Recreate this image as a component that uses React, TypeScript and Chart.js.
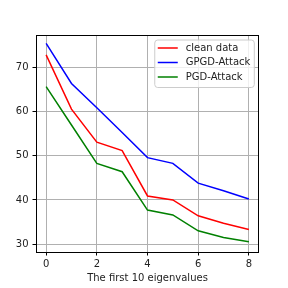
import React, { useEffect, useRef } from "react";
import { Chart, registerables } from "chart.js";

Chart.register(...registerables);

const xValues = [0, 1, 2, 3, 4, 5, 6, 7, 8];
const cleanData = [72.9, 60.6, 53.1, 51.2, 40.9, 40.0, 36.4, 34.7, 33.3];
const gpgdData = [75.5, 66.4, 60.9, 55.3, 49.6, 48.3, 43.8, 42.1, 40.2];
const pgdData = [65.7, 57.0, 48.3, 46.4, 37.7, 36.6, 33.0, 31.5, 30.5];
const seriesLabels = ["clean data", "GPGD-Attack", "PGD-Attack"];
const seriesColors = ["#ff0000", "#0000ff", "#008000"];
const xTicks = [0, 2, 4, 6, 8];
const yTicks = [30, 40, 50, 60, 70];
const xTitle = "The first 10 eigenvalues";

const FONT = "'DejaVu Sans', sans-serif";

const framePlugin = {
  id: "frameAndLegend",
  afterDraw(chart: any) {
    const { ctx, chartArea } = chart;
    ctx.save();
    // frame
    ctx.strokeStyle = "#000";
    ctx.lineWidth = 1;
    ctx.strokeRect(
      Math.round(chartArea.left) + 0.5,
      Math.round(chartArea.top) + 0.5,
      Math.round(chartArea.right - chartArea.left) - 1,
      Math.round(chartArea.bottom - chartArea.top)
    );
    // legend
    ctx.font = `10px ${FONT}`;
    const ds = chart.data.datasets;
    let maxW = 0;
    ds.forEach((d: any) => {
      maxW = Math.max(maxW, ctx.measureText(d.label).width);
    });
    const width = maxW + 35;
    const rowH = 14.5;
    const height = rowH * ds.length + 4;
    const right = chartArea.right - 4.7;
    const left = right - width;
    const top = chartArea.top + 5;
    const r = 3;
    ctx.beginPath();
    ctx.moveTo(left + r, top);
    ctx.lineTo(right - r, top);
    ctx.quadraticCurveTo(right, top, right, top + r);
    ctx.lineTo(right, top + height - r);
    ctx.quadraticCurveTo(right, top + height, right - r, top + height);
    ctx.lineTo(left + r, top + height);
    ctx.quadraticCurveTo(left, top + height, left, top + height - r);
    ctx.lineTo(left, top + r);
    ctx.quadraticCurveTo(left, top, left + r, top);
    ctx.closePath();
    ctx.fillStyle = "rgba(255,255,255,0.8)";
    ctx.fill();
    ctx.strokeStyle = "#cccccc";
    ctx.lineWidth = 1;
    ctx.stroke();
    ds.forEach((d: any, i: number) => {
      const cy = top + 8 + i * rowH;
      ctx.strokeStyle = d.borderColor;
      ctx.lineWidth = 1.5;
      ctx.beginPath();
      ctx.moveTo(left + 3, cy);
      ctx.lineTo(left + 23, cy);
      ctx.stroke();
      ctx.fillStyle = "#222";
      ctx.textBaseline = "middle";
      ctx.textAlign = "left";
      ctx.fillText(d.label, left + 31, cy);
    });
    ctx.restore();
  },
};

export default function App() {
  const ref = useRef<HTMLCanvasElement>(null);
  useEffect(() => {
    document.body.style.margin = "0";
    const seriesData = [cleanData, gpgdData, pgdData];
    const chart = new Chart(ref.current as HTMLCanvasElement, {
      type: "line",
      data: {
        datasets: seriesData.map((arr, i) => ({
          label: seriesLabels[i],
          data: arr.map((v, j) => ({ x: xValues[j], y: v })),
          borderColor: seriesColors[i],
          backgroundColor: seriesColors[i],
          borderWidth: 1.5,
          pointRadius: 0,
          tension: 0,
          fill: false,
        })),
      },
      options: {
        responsive: false,
        animation: false,
        layout: { padding: { top: 35, right: 29, left: 0, bottom: 0 } },
        plugins: { legend: { display: false }, tooltip: { enabled: false } },
        scales: {
          x: {
            type: "linear",
            min: -0.4,
            max: 8.4,
            afterBuildTicks: (s: any) => {
              s.ticks = xTicks.map((v) => ({ value: v }));
            },
            afterFit: (s: any) => {
              s.height = 36;
            },
            grid: { color: "#b0b0b0", lineWidth: 1, tickLength: 3.5, tickColor: "#000" },
            border: { display: false },
            ticks: { color: "#222", font: { family: FONT, size: 10 }, padding: 3, maxRotation: 0 },
            title: {
              display: true,
              text: xTitle,
              color: "#222",
              font: { family: FONT, size: 10 },
              padding: { top: 0, bottom: 4 },
            },
          },
          y: {
            type: "linear",
            min: 28.2,
            max: 77.4,
            afterBuildTicks: (s: any) => {
              s.ticks = yTicks.map((v) => ({ value: v }));
            },
            afterFit: (s: any) => {
              s.width = 36;
            },
            grid: { color: "#b0b0b0", lineWidth: 1, tickLength: 3.5, tickColor: "#000" },
            border: { display: false },
            ticks: { color: "#222", font: { family: FONT, size: 10 }, padding: 4 },
          },
        },
      },
      plugins: [framePlugin],
    } as any);
    return () => chart.destroy();
  }, []);
  return (
    <div style={{ position: "absolute", left: 0, top: 0, width: 288, height: 288, background: "#fff" }}>
      <canvas ref={ref} width={288} height={288} />
    </div>
  );
}
